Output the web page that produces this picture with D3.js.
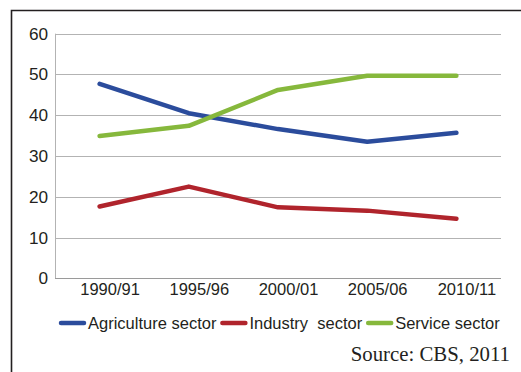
<!DOCTYPE html>
<html>
<head>
<meta charset="utf-8">
<script src="https://cdn.jsdelivr.net/npm/d3@7"></script>
<style>
  html, body { margin: 0; padding: 0; background: #fff; }
  svg { display: block; }
</style>
</head>
<body>
<svg id="chart" width="521" height="372"></svg>
<script>
// Share of sectors by survey period
const periods = ["1990/91", "1995/96", "2000/01", "2005/06", "2010/11"];
const agriculture = [47.7, 40.5, 36.6, 33.5, 35.7];
const industry = [17.6, 22.5, 17.4, 16.6, 14.6];
const service = [34.9, 37.4, 46.2, 49.7, 49.7];
const yTicks = [0, 10, 20, 30, 40, 50, 60];

const series = [
  { name: "Agriculture sector", values: agriculture, color: "#2B4C9C" },
  { name: "Industry  sector", values: industry, color: "#B0242C" },
  { name: "Service sector", values: service, color: "#86B83C" }
];

const FONT = "Liberation Sans, Arial, sans-serif";
const FS = 16.5;

const svg = d3.select("#chart");

// outer frame
svg.append("path")
  .attr("d", "M11.5,372 L11.5,10.5 L521,10.5")
  .attr("fill", "none")
  .attr("stroke", "#231f20")
  .attr("stroke-width", 1.6);

const plot = { left: 55, right: 501, top: 33.7, bottom: 278.3 };

const x = d3.scalePoint()
  .domain(periods)
  .range([plot.left, plot.right])
  .padding(0.5);

const y = d3.scaleLinear()
  .domain([0, 60])
  .range([plot.bottom, plot.top]);

// horizontal gridlines
svg.append("g")
  .selectAll("line")
  .data(yTicks.filter(d => d > 0))
  .join("line")
  .attr("x1", plot.left)
  .attr("x2", plot.right)
  .attr("y1", d => Math.round(y(d)) + 0.5)
  .attr("y2", d => Math.round(y(d)) + 0.5)
  .attr("stroke", "#b3b3b3")
  .attr("stroke-width", 1);

// y axis labels
const yAxis = d3.axisLeft(y).tickValues(yTicks).tickSize(0).tickPadding(7);
const gy = svg.append("g")
  .attr("transform", `translate(${plot.left},0)`)
  .call(yAxis);
gy.select(".domain").remove();
gy.selectAll("text")
  .attr("font-family", FONT)
  .attr("font-size", 17.2)
  .attr("fill", "#231f20");

// axis lines
svg.append("line")
  .attr("x1", plot.left + 0.5).attr("x2", plot.left + 0.5)
  .attr("y1", plot.top).attr("y2", Math.round(plot.bottom) + 0.5)
  .attr("stroke", "#b3b3b3").attr("stroke-width", 1);
svg.append("line")
  .attr("x1", plot.left).attr("x2", plot.right)
  .attr("y1", Math.round(plot.bottom) + 0.5).attr("y2", Math.round(plot.bottom) + 0.5)
  .attr("stroke", "#9a9a9a").attr("stroke-width", 1);

// x axis labels
const xAxis = d3.axisBottom(x).tickSize(0).tickPadding(5);
const gx = svg.append("g")
  .attr("transform", `translate(10,${Math.round(plot.bottom)})`)
  .call(xAxis);
gx.select(".domain").remove();
gx.selectAll("text")
  .attr("font-family", FONT)
  .attr("font-size", FS)
  .attr("fill", "#231f20");

// series lines
const line = d3.line()
  .x((d, i) => x(periods[i]))
  .y(d => y(d));

svg.append("g")
  .selectAll("path")
  .data(series)
  .join("path")
  .attr("d", d => line(d.values))
  .attr("fill", "none")
  .attr("stroke", d => d.color)
  .attr("stroke-width", 4.5)
  .attr("stroke-linecap", "round")
  .attr("stroke-linejoin", "round");

// legend
const legendY = 323;
const legend = svg.append("g")
  .attr("font-family", FONT)
  .attr("font-size", FS)
  .attr("fill", "#231f20");
let lx = 61;
series.forEach(s => {
  legend.append("line")
    .attr("x1", lx).attr("x2", lx + 23)
    .attr("y1", legendY).attr("y2", legendY)
    .attr("stroke", s.color)
    .attr("stroke-width", 4.5)
    .attr("stroke-linecap", "round");
  const t = legend.append("text")
    .attr("x", lx + 27)
    .attr("y", legendY + 6)
    .attr("xml:space", "preserve")
    .text(s.name);
  lx = lx + 27 + t.node().getComputedTextLength() + 6;
});

// source note
svg.append("text")
  .attr("x", 510)
  .attr("y", 361)
  .attr("text-anchor", "end")
  .attr("font-family", "Liberation Serif, Times New Roman, serif")
  .attr("font-size", 20.8)
  .attr("fill", "#231f20")
  .text("Source: CBS, 2011");
</script>
</body>
</html>
